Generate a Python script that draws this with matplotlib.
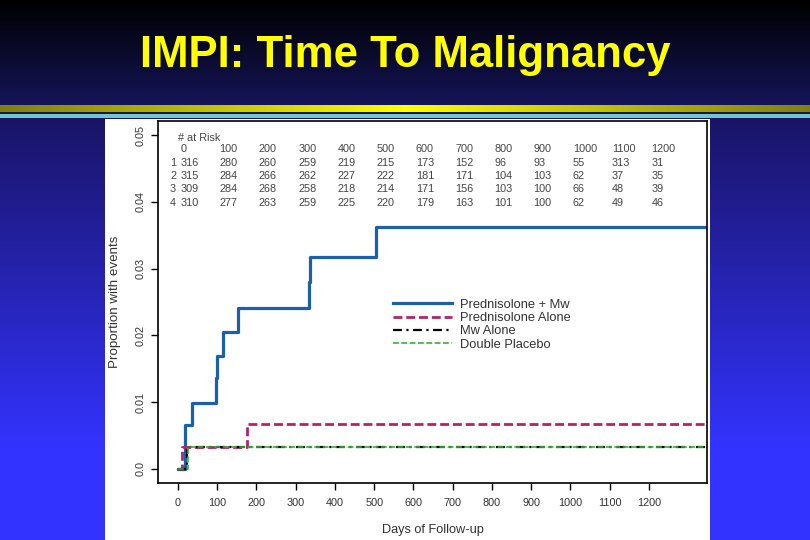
import numpy as np
import matplotlib
matplotlib.use('Agg')
import matplotlib.pyplot as plt
from matplotlib.patches import Rectangle
from matplotlib.transforms import blended_transform_factory

plt.rcParams['font.family'] = ['Liberation Sans', 'DejaVu Sans']

# --- data ---
days_pred_mw = [0, 18, 36, 96, 100, 115, 153, 334, 336, 505, 1400]
prop_pred_mw = [0, 0.0066, 0.0099, 0.0136, 0.0169, 0.0205, 0.0241, 0.0280, 0.0317, 0.0362, 0.0362]

days_pred = [0, 10, 176, 1400]
prop_pred = [0, 0.0033, 0.0067, 0.0067]

days_mw = [0, 22, 1400]
prop_mw = [0, 0.0033, 0.0033]

days_placebo = [0, 25, 1400]
prop_placebo = [0, 0.0033, 0.0033]

labels = ['Prednisolone + Mw', 'Prednisolone Alone', 'Mw Alone', 'Double Placebo']

risk_days = [0, 100, 200, 300, 400, 500, 600, 700, 800, 900, 1000, 1100, 1200]
risk_arm1 = [316, 280, 260, 259, 219, 215, 173, 152, 96, 93, 55, 313, 31]
risk_arm2 = [315, 284, 266, 262, 227, 222, 181, 171, 104, 103, 62, 37, 35]
risk_arm3 = [309, 284, 268, 258, 218, 214, 171, 156, 103, 100, 66, 48, 39]
risk_arm4 = [310, 277, 263, 259, 225, 220, 179, 163, 101, 100, 62, 49, 46]

y_ticks = [0.0, 0.01, 0.02, 0.03, 0.04, 0.05]
y_ticklabels = ['0.0', '0.01', '0.02', '0.03', '0.04', '0.05']

W, H = 810, 540
fig = plt.figure(figsize=(W / 100, H / 100), dpi=100)

# slide background
bg_ax = fig.add_axes([0, 0, 1, 1])
bg_ax.set_axis_off()
yy = np.arange(H)[:, None] * np.ones((1, W))
xx = np.ones((H, 1)) * np.arange(W)[None, :]
bg = np.zeros((H, W, 3))

t = np.clip(yy / 105.0, 0, 1)[..., None]
top = np.array([0.0, 0.0, 0.0]) * (1 - t) + np.array([0.08, 0.08, 0.35]) * t
t2 = np.clip((yy - 118) / 330.0, 0, 1)[..., None]
low = np.array([0.10, 0.08, 0.40]) * (1 - t2) + np.array([0.20, 0.20, 1.0]) * t2
s = (1 - np.abs(xx - 405) / 405.0)[..., None]
band = np.array([0.50, 0.50, 0.06]) * (1 - s) + np.array([1.0, 1.0, 0.0]) * s

bg[:] = low
bg[yy < 105] = top[yy < 105]
m = (yy >= 105) & (yy < 112)
bg[m] = band[m]
bg[(yy >= 112) & (yy < 114)] = [0.10, 0.10, 0.25]
bg[(yy >= 114) & (yy < 118)] = [0.45, 0.78, 0.82]

bg_ax.imshow(bg, extent=(0, W, H, 0), aspect='auto')
bg_ax.set_xlim(0, W)
bg_ax.set_ylim(H, 0)
bg_ax.add_patch(Rectangle((105, 119), 605, 421, facecolor='white', edgecolor='none'))

fig.text(405 / W, 1 - 55 / H, 'IMPI: Time To Malignancy', color='#ffff00',
         fontsize=31.5, fontweight='bold', ha='center', va='center')

# plot
ax = fig.add_axes([158 / W, 57 / H, 549 / W, 362 / H])
ax.set_facecolor('none')

ax.step(days_pred_mw, prop_pred_mw, where='post', color='#1c5fab', lw=2.3,
        label=labels[0])
ax.step(days_pred, prop_pred, where='post', color='#b3226c', lw=2.0,
        linestyle=(0, (3.2, 1.4)), label=labels[1])
ax.step(days_mw, prop_mw, where='post', color='black', lw=1.6,
        linestyle=(0, (4, 2, 1, 2)), label=labels[2])
ax.step(days_placebo, prop_placebo, where='post', color='#2fb52f', lw=1.2,
        linestyle=(0, (3.5, 1.5)), label=labels[3])

ax.set_xlim(-51, 1348)
ax.set_ylim(-0.0021, 0.0521)
ax.set_xticks(risk_days)
ax.set_yticks(y_ticks)
ax.set_yticklabels(y_ticklabels, rotation=90, va='center')
ax.tick_params(axis='both', direction='out', length=5, width=1,
               labelcolor='#333333', labelsize=7.8)
ax.tick_params(axis='x', pad=6)
ax.tick_params(axis='y', pad=4)
for sp in ax.spines.values():
    sp.set_linewidth(1.2)

fig.text(433 / W, 1 - 530 / H, 'Days of Follow-up', color='#333333',
         fontsize=9.2, ha='center', va='center')
fig.text(115 / W, 1 - 302 / H, 'Proportion with events', color='#333333',
         fontsize=9.6, ha='center', va='center', rotation=90)

# numbers at risk
trans = blended_transform_factory(ax.transData, ax.transAxes)
ax.text(0, 0.953, '# at Risk', transform=trans, fontsize=7.8, color='#444444',
        ha='left', va='center')
row_y = [0.923, 0.884, 0.848, 0.812, 0.773]
for d in risk_days:
    ax.text(d + 6, row_y[0], str(d), transform=trans, fontsize=7.8,
            color='#444444', ha='left', va='center')
for i, arm in enumerate([risk_arm1, risk_arm2, risk_arm3, risk_arm4]):
    ax.text(-5, row_y[i + 1], str(i + 1), transform=trans, fontsize=7.8,
            color='#444444', ha='right', va='center')
    for d, n in zip(risk_days, arm):
        ax.text(d + 6, row_y[i + 1], str(n), transform=trans, fontsize=7.8,
                color='#444444', ha='left', va='center')

leg = ax.legend(loc='upper left', bbox_to_anchor=(0.428, 0.509), frameon=False,
                fontsize=9.3, handlelength=4.6, handletextpad=0.6,
                labelspacing=0.1, borderpad=0, borderaxespad=0)
for txt in leg.get_texts():
    txt.set_color('#333333')

fig.savefig('out.png', dpi=100)
